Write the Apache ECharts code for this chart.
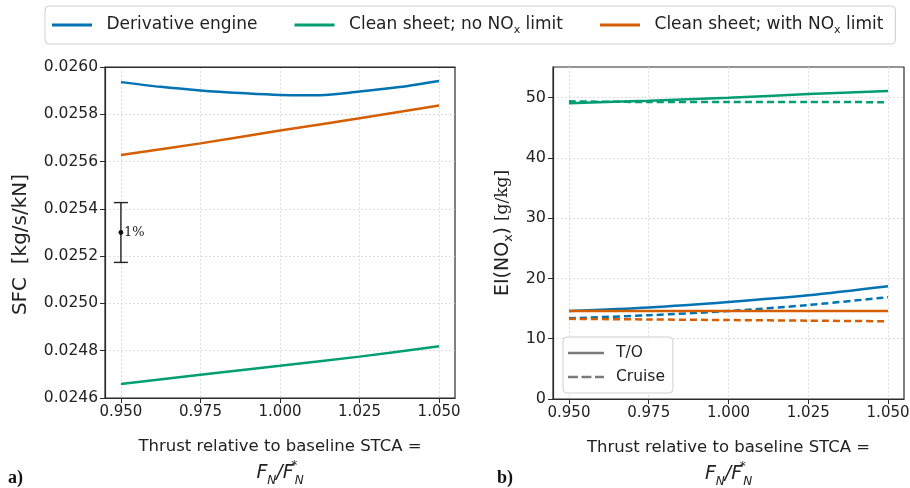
<!DOCTYPE html>
<html><head><meta charset="utf-8">
<script src="https://cdn.jsdelivr.net/npm/echarts@6/dist/echarts.min.js"></script>
<style>html,body{margin:0;padding:0;background:#fff}#c{width:910px;height:488px}</style>
</head><body><div id="c"></div>
<script>
// ---- data ----
const xTicks = [0.95, 0.975, 1.0, 1.025, 1.05];
const xsFine = [0.95, 0.9625, 0.975, 0.9875, 1.0, 1.0125, 1.025, 1.0375, 1.05];
const xs = [0.95, 0.975, 1.0, 1.025, 1.05];
const seriesNames = ['Derivative engine', 'Clean sheet; no NOx limit', 'Clean sheet; with NOx limit'];
// panel a) SFC [kg/s/kN]
const sfcDerivative = [0.025936, 0.025916, 0.025901, 0.025890, 0.025882, 0.025881, 0.025896, 0.025915, 0.025941];
const sfcNoLimit = [0.024659, 0.024698, 0.024736, 0.024775, 0.024819];
const sfcWithLimit = [0.025628, 0.025677, 0.025731, 0.025783, 0.025837];
const sfcTicks = [0.0246, 0.0248, 0.0250, 0.0252, 0.0254, 0.0256, 0.0258, 0.0260];
// 1% error bar (centre, half-width)
const errX = [0.95];
const errY = [0.0253];
const errHalf = [0.0001265];
const errLabel = ['1%'];
// panel b) EI(NOx) [g/kg]
const eiDerTO = [14.6, 15.2, 16.1, 17.2, 18.7];
const eiDerCruise = [13.4, 13.9, 14.6, 15.6, 16.9];
const eiNoLimTO = [49.1, 49.5, 50.0, 50.6, 51.1];
const eiNoLimCruise = [49.4, 49.3, 49.3, 49.3, 49.25];
const eiWithLimTO = [14.6, 14.6, 14.6, 14.6, 14.6];
const eiWithLimCruise = [13.3, 13.2, 13.1, 13.0, 12.9];
const eiTicks = [0, 10, 20, 30, 40, 50];
const modeNames = ['T/O', 'Cruise'];

// ---- styling ----
const C = ['#0173B2', '#029E73', '#D55E00'];
const FONT = 'DejaVu Sans';
const zip = (a, b) => a.map((v, i) => [v, b[i]]);
const frame = '#2b2b2b';
const gridLine = { show: true, lineStyle: { color: '#d6d6d6', type: [2, 2], width: 0.8 } };
const ICON_SOLID = 'path://M0,0H40V3H0Z';
const ICON_DASH = 'path://M0,0H11V3H0Z M15,0H26V3H15Z M30,0H40V3H30Z';

function xAxisDef(idx) {
  return {
    type: 'value', gridIndex: idx, min: 0.945, max: 1.055,
    axisLine: { show: true, lineStyle: { color: frame, width: 1.2 } },
    axisTick: { show: true, customValues: xTicks, length: 5, lineStyle: { color: frame } },
    axisLabel: { customValues: xTicks, color: '#222', fontFamily: FONT, fontSize: 15, margin: 7,
      formatter: v => v.toFixed(3) },
    splitLine: gridLine,
    name: 'Thrust relative to baseline STCA =\n{it|F}{sub|N}{it|/F}{sup|*}{sub|N}',
    nameLocation: 'middle', nameGap: 35,
    nameTextStyle: {
      color: '#222', fontFamily: FONT, fontSize: 16.5, lineHeight: 27,
      rich: {
        it: { fontFamily: FONT, fontStyle: 'italic', fontSize: 19, lineHeight: 27, color: '#222' },
        sub: { fontFamily: FONT, fontStyle: 'italic', fontSize: 12, lineHeight: 18, verticalAlign: 'bottom', color: '#222' },
        sup: { fontFamily: FONT, fontSize: 12, lineHeight: 12, verticalAlign: 'top', width: 1, color: '#222' }
      }
    }
  };
}
function topFrame(idx) {
  return {
    type: 'value', gridIndex: idx, position: 'top', min: 0.945, max: 1.055,
    axisLine: { show: true, lineStyle: { color: frame, width: 1.2 } },
    axisTick: { show: false }, axisLabel: { show: false }, splitLine: { show: false }
  };
}

const chart = echarts.init(document.getElementById('c'), null, { renderer: 'canvas' });

const lineBase = (name, xi, data, color, dashed) => ({
  name, type: 'line', xAxisIndex: xi, yAxisIndex: xi, data, symbol: 'none', smooth: 0.3,
  lineStyle: { color, width: 2.5, type: dashed ? [7, 4] : 'solid' },
  itemStyle: { color }, emphasis: { disabled: true }, z: 3
});

const option = {
  animation: false,
  backgroundColor: '#fff',
  grid: [
    { left: 105, top: 67, width: 350, height: 331, show: true, borderColor: frame, borderWidth: 1.2, backgroundColor: 'transparent', outerBoundsMode: 'none', containLabel: false },
    { left: 553, top: 67, width: 351, height: 332, show: true, borderColor: frame, borderWidth: 1.2, backgroundColor: 'transparent', outerBoundsMode: 'none', containLabel: false }
  ],
  legend: [
    {
      data: seriesNames, left: 45, top: 6,
      padding: [8, 12, 8, 7], itemGap: 37, itemWidth: 41, itemHeight: 3,
      icon: ICON_SOLID,
      backgroundColor: '#fff', borderColor: '#cfcfcf', borderWidth: 1, borderRadius: 4,
      selectedMode: false,
      formatter: n => n.replace('NOx', 'NO{sub|x}'),
      textStyle: { fontFamily: FONT, fontSize: 17, color: '#222', lineHeight: 22, padding: [0, 0, 0, 9],
        rich: { sub: { fontFamily: FONT, fontSize: 11, lineHeight: 14, verticalAlign: 'bottom', color: '#222' } } }
    },
    {
      data: [{ name: modeNames[0], icon: ICON_SOLID }, { name: modeNames[1], icon: ICON_DASH }],
      left: 563, top: 337, orient: 'vertical',
      padding: [7, 8, 7, 5], itemGap: 6, itemWidth: 36, itemHeight: 3,
      backgroundColor: 'rgba(255,255,255,0.85)', borderColor: '#cfcfcf', borderWidth: 1, borderRadius: 4,
      selectedMode: false,
      textStyle: { fontFamily: FONT, fontSize: 15.5, color: '#222', lineHeight: 18, padding: [0, 0, 0, 7] }
    }
  ],
  xAxis: [xAxisDef(0), xAxisDef(1), topFrame(0)],
  yAxis: [
    {
      type: 'value', gridIndex: 0, min: 0.0246, max: 0.0260,
      axisLine: { show: true, lineStyle: { color: frame, width: 1.2 } },
      axisTick: { show: true, customValues: sfcTicks, length: 5, lineStyle: { color: frame } },
      axisLabel: { customValues: sfcTicks, color: '#222', fontFamily: FONT, fontSize: 15.5, margin: 7, formatter: v => v.toFixed(4) },
      splitLine: gridLine,
      name: 'SFC  [kg/s/kN]', nameLocation: 'middle', nameGap: 74, nameRotate: 90,
      nameTextStyle: { color: '#222', fontFamily: FONT, fontSize: 20, padding: [0, 24, 0, 0] }
    },
    {
      type: 'value', gridIndex: 1, min: 0, max: 55.1,
      axisLine: { show: true, lineStyle: { color: frame, width: 1.2 } },
      axisTick: { show: true, customValues: eiTicks, length: 5, lineStyle: { color: frame } },
      axisLabel: { customValues: eiTicks, color: '#222', fontFamily: FONT, fontSize: 16, margin: 7 },
      splitLine: gridLine,
      name: 'EI(NO{sub|x}) {ser|[g/kg]}', nameLocation: 'middle', nameGap: 38, nameRotate: 90,
      nameTextStyle: { color: '#222', fontFamily: FONT, fontSize: 19, lineHeight: 24,
        rich: {
          sub: { fontFamily: FONT, fontSize: 12.5, lineHeight: 16, verticalAlign: 'bottom', color: '#222' },
          ser: { fontFamily: 'DejaVu Serif', fontSize: 17, lineHeight: 24, color: '#222' }
        } }
    }
  ],
  graphic: [
    { type: 'text', left: 8, top: 469, style: { text: 'a)', font: 'bold 18px "Liberation Serif", serif', fill: '#111' } },
    { type: 'text', left: 497, top: 469, style: { text: 'b)', font: 'bold 18px "Liberation Serif", serif', fill: '#111' } }
  ],
  series: [
    lineBase(seriesNames[0], 0, zip(xsFine, sfcDerivative), C[0], false),
    lineBase(seriesNames[1], 0, zip(xs, sfcNoLimit), C[1], false),
    lineBase(seriesNames[2], 0, zip(xs, sfcWithLimit), C[2], false),
    {
      type: 'custom', xAxisIndex: 0, yAxisIndex: 0, silent: true, z: 4,
      data: errX.map((x, i) => [x, errY[i], errHalf[i]]),
      renderItem: (params, api) => {
        const x = api.value(0), y = api.value(1), h = api.value(2);
        const c = api.coord([x, y]);
        const t = api.coord([x, y + h]);
        const b = api.coord([x, y - h]);
        const cap = 7;
        const st = { stroke: '#222', lineWidth: 1.4 };
        return {
          type: 'group', children: [
            { type: 'line', shape: { x1: t[0], y1: t[1], x2: b[0], y2: b[1] }, style: st },
            { type: 'line', shape: { x1: t[0] - cap, y1: t[1], x2: t[0] + cap, y2: t[1] }, style: st },
            { type: 'line', shape: { x1: b[0] - cap, y1: b[1], x2: b[0] + cap, y2: b[1] }, style: st },
            { type: 'circle', shape: { cx: c[0], cy: c[1], r: 2.4 }, style: { fill: '#111' } },
            { type: 'text', x: c[0] + 3, y: c[1], style: { text: errLabel[params.dataIndex], font: '13px "DejaVu Serif", serif', fill: '#222', verticalAlign: 'middle', align: 'left' } }
          ]
        };
      }
    },
    lineBase(seriesNames[1], 1, zip(xs, eiNoLimTO), C[1], false),
    lineBase(seriesNames[1], 1, zip(xs, eiNoLimCruise), C[1], true),
    lineBase(seriesNames[0], 1, zip(xs, eiDerTO), C[0], false),
    lineBase(seriesNames[0], 1, zip(xs, eiDerCruise), C[0], true),
    lineBase(seriesNames[2], 1, zip(xs, eiWithLimTO), C[2], false),
    lineBase(seriesNames[2], 1, zip(xs, eiWithLimCruise), C[2], true),
    { name: modeNames[0], type: 'line', xAxisIndex: 1, yAxisIndex: 1, data: [], symbol: 'none',
      lineStyle: { color: '#7a7a7a', width: 2.4 }, itemStyle: { color: '#7a7a7a' } },
    { name: modeNames[1], type: 'line', xAxisIndex: 1, yAxisIndex: 1, data: [], symbol: 'none',
      lineStyle: { color: '#7a7a7a', width: 2.4, type: [7, 4] }, itemStyle: { color: '#7a7a7a' } }
  ]
};
chart.setOption(option);
</script>
</body></html>
